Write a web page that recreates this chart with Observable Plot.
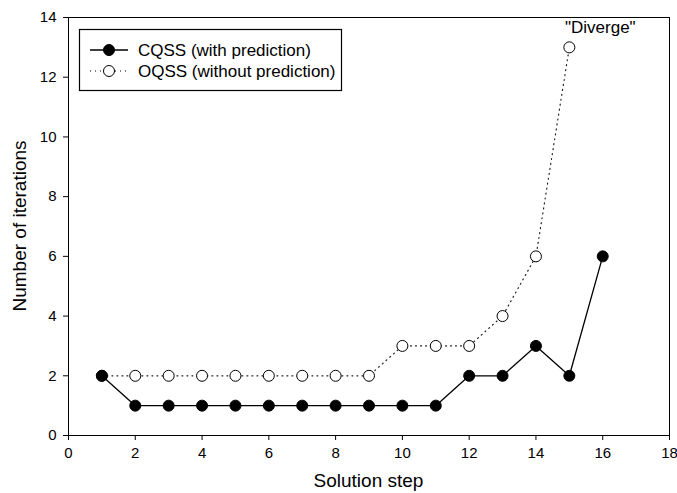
<!DOCTYPE html>
<html>
<head>
<meta charset="utf-8">
<script src="https://cdn.jsdelivr.net/npm/d3@7"></script>
<script src="https://cdn.jsdelivr.net/npm/@observablehq/plot@0.6"></script>
<style>
  html, body { margin: 0; padding: 0; background: #fff; }
  svg { font-family: Arial, "Liberation Sans", sans-serif; }
</style>
</head>
<body>
<div id="chart"></div>
<script>
const cqssSteps = [1, 2, 3, 4, 5, 6, 7, 8, 9, 10, 11, 12, 13, 14, 15, 16];
const cqssIters = [2, 1, 1, 1, 1, 1, 1, 1, 1, 1, 1, 2, 2, 3, 2, 6];
const oqssSteps = [1, 2, 3, 4, 5, 6, 7, 8, 9, 10, 11, 12, 13, 14, 15];
const oqssIters = [2, 2, 2, 2, 2, 2, 2, 2, 2, 3, 3, 3, 4, 6, 13];
const xTicks = [0, 2, 4, 6, 8, 10, 12, 14, 16, 18];
const yTicks = [0, 2, 4, 6, 8, 10, 12, 14];
const seriesNames = ["CQSS (with prediction)", "OQSS (without prediction)"];
const annotation = [{step: 15, iter: 13, label: "\"Diverge\""}];

const cqss = cqssSteps.map((s, i) => ({step: s, iter: cqssIters[i]}));
const oqss = oqssSteps.map((s, i) => ({step: s, iter: oqssIters[i]}));

const W = 677, H = 493;
const mL = 68, mR = 8, mT = 17, mB = 58;

const plot = Plot.plot({
  width: W,
  height: H,
  marginLeft: mL,
  marginRight: mR,
  marginTop: mT,
  marginBottom: mB,
  style: {fontFamily: "Arial, 'Liberation Sans', sans-serif", background: "#fff", fontSize: "15px"},
  x: {domain: [0, 18]},
  y: {domain: [0, 14]},
  marks: [
    Plot.frame({stroke: "#000", strokeWidth: 1}),
    Plot.axisX({ticks: xTicks, tickSize: 5, tickPadding: 7, fontSize: 15, label: null, stroke: "#000", color: "#000"}),
    Plot.axisY({ticks: yTicks, tickSize: 5, tickPadding: 7, fontSize: 15, label: null, stroke: "#000", color: "#000"}),
    Plot.line(oqss, {x: "step", y: "iter", stroke: "#222", strokeWidth: 1.2, strokeDasharray: "1,4"}),
    Plot.line(cqss, {x: "step", y: "iter", stroke: "#000", strokeWidth: 1.3}),
    Plot.dot(oqss, {x: "step", y: "iter", r: 5.5, fill: "#fff", stroke: "#000", strokeWidth: 1}),
    Plot.dot(cqss, {x: "step", y: "iter", r: 5.5, fill: "#000", stroke: "#000", strokeWidth: 1}),
    Plot.text(annotation, {x: "step", y: "iter", text: "label", dx: 31, dy: -20, fontSize: 17, fill: "#000", textAnchor: "middle"})
  ]
});

const svg = d3.select(plot);
// enforce font sizes (inline style wins over inherited CSS)
svg.selectAll("text").style("font-size", "15px").style("font-family", "Arial, 'Liberation Sans', sans-serif");
svg.selectAll("g[aria-label='text'] text").style("font-size", "17px");

// axis titles
svg.append("text")
  .attr("x", mL + (W - mL - mR) / 2)
  .attr("y", 487)
  .attr("text-anchor", "middle")
  .style("font-size", "19px")
  .attr("fill", "#000")
  .text("Solution step");
svg.append("text")
  .attr("transform", `translate(26, ${mT + (H - mT - mB) / 2}) rotate(-90)`)
  .attr("text-anchor", "middle")
  .style("font-size", "19px")
  .attr("fill", "#000")
  .text("Number of iterations");

// legend
const lg = svg.append("g");
lg.append("rect").attr("x", 79.5).attr("y", 29.5).attr("width", 262).attr("height", 61)
  .attr("fill", "#fff").attr("stroke", "#000").attr("stroke-width", 1.2);
const rows = [
  {y: 50, dash: null, fill: "#000", sw: 1.3},
  {y: 71, dash: "1,4", fill: "#fff", sw: 1.2}
];
rows.forEach((r, i) => {
  const ln = lg.append("line").attr("x1", 90).attr("x2", 128).attr("y1", r.y).attr("y2", r.y)
    .attr("stroke", "#000").attr("stroke-width", r.sw);
  if (r.dash) ln.attr("stroke-dasharray", r.dash);
  lg.append("circle").attr("cx", 109).attr("cy", r.y).attr("r", 5.5)
    .attr("fill", r.fill).attr("stroke", "#000");
  lg.append("text").attr("x", 138).attr("y", r.y).attr("dy", "0.35em")
    .attr("text-anchor", "start")
    .style("font-size", "17px").attr("fill", "#000").text(seriesNames[i]);
});

document.getElementById("chart").appendChild(plot);
</script>
</body>
</html>
